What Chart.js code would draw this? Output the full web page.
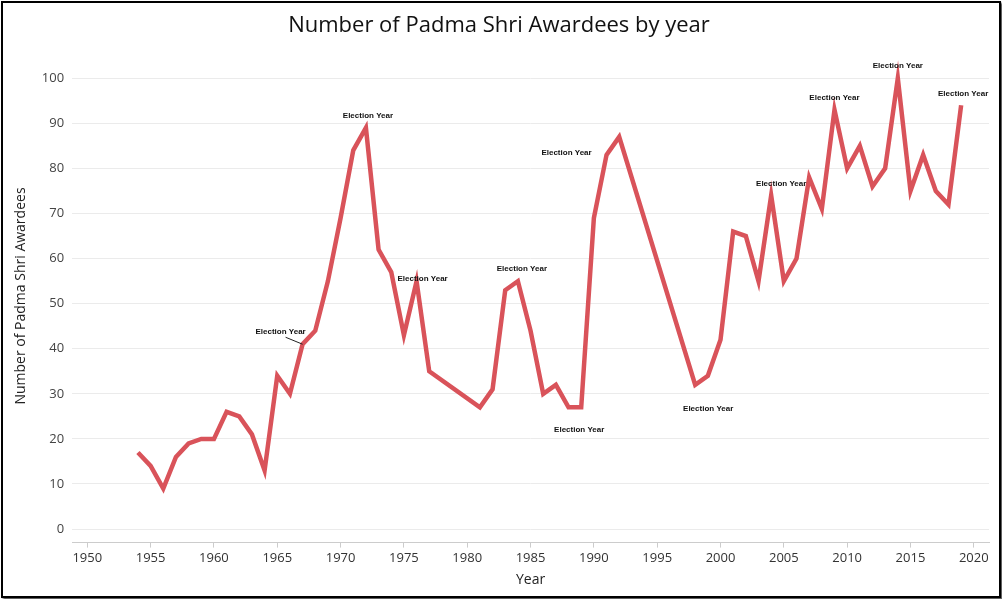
<!DOCTYPE html>
<html><head><meta charset="utf-8">
<script src="https://cdn.jsdelivr.net/npm/chart.js@4"></script>
<style>
html,body{margin:0;padding:0;background:#fff;}
#wrap{position:absolute;left:1px;top:1px;width:996px;height:593px;border:2px solid #000;box-shadow:2px 2px 2px #555;}
</style></head><body>
<div id="wrap"><canvas id="c" width="996" height="593"></canvas></div>
<script>
const years = [1954,1955,1956,1957,1958,1959,1960,1961,1962,1963,1964,1965,1966,1967,1968,1969,1970,1971,1972,1973,1974,1975,1976,1977,1981,1982,1983,1984,1985,1986,1987,1988,1989,1990,1991,1992,1998,1999,2000,2001,2002,2003,2004,2005,2006,2007,2008,2009,2010,2011,2012,2013,2014,2015,2016,2017,2018,2019];
const awardees = [17,14,9,16,19,20,20,26,25,21,13,34,30,41,44,55,69,84,89,62,57,43,55,35,27,31,53,55,44,30,32,27,27,69,83,87,32,34,42,66,65,55,74,55,60,78,71,93,80,85,76,80,100,75,83,75,72,94];
const electionYears = [1967,1972,1976,1984,1989,1991,1998,2004,2009,2014,2019];
const yTicks = [0,10,20,30,40,50,60,70,80,90,100];
const xTicks = [1950,1955,1960,1965,1970,1975,1980,1985,1990,1995,2000,2005,2010,2015,2020];

// label placement per election year: [dx, dy, leader]
const labelPos = {1967:[-22,-12,true],1972:[2,-12],1976:[6,-2],1984:[4,-12],1989:[-2,22],1991:[-40,-2],1998:[13,24],2004:[10,-12],2009:[0,-12],2014:[0,-12],2019:[2,-12]};

const annot = {
  id:'annot',
  afterDatasetsDraw(chart){
    const ctx = chart.ctx, xs = chart.scales.x, ys = chart.scales.y;
    ctx.save();
    ctx.font = 'bold 8px "Liberation Sans", Arial, sans-serif';
    ctx.fillStyle = '#111'; ctx.textAlign='center'; ctx.textBaseline='middle';
    electionYears.forEach(yr=>{
      const i = years.indexOf(yr); if(i<0) return;
      const px = xs.getPixelForValue(yr), py = ys.getPixelForValue(awardees[i]);
      const p = labelPos[yr];
      const lx = px+p[0], ly = py+p[1];
      if(p[2]){ ctx.strokeStyle='#222'; ctx.lineWidth=1; ctx.beginPath(); ctx.moveTo(lx+5,ly+5); ctx.lineTo(px,py); ctx.stroke(); }
      ctx.fillText('Election Year', lx, ly);
    });
    ctx.restore();
  }
};

new Chart(document.getElementById('c'),{
  type:'line',
  data:{datasets:[{data:years.map((y,i)=>({x:y,y:awardees[i]})),borderColor:'#d9535a',borderWidth:4.5,pointRadius:0,tension:0,borderJoinStyle:'miter'}]},
  options:{
    responsive:false,animation:false,
    layout:{padding:{left:6,right:10,top:4,bottom:4}},
    plugins:{legend:{display:false},tooltip:{enabled:false},
      title:{display:true,text:'Number of Padma Shri Awardees by year',font:{size:22,family:'"Open Sans", sans-serif',weight:'500'},color:'#111',padding:{top:6,bottom:10}}},
    scales:{
      x:{type:'linear',min:1948.8,max:2021.2,
        afterBuildTicks:a=>{a.ticks=xTicks.map(v=>({value:v}));},
        ticks:{font:{size:13,family:'"Open Sans", sans-serif'},color:'#333',callback:v=>String(v),maxRotation:0},
        grid:{display:true,drawOnChartArea:false,tickLength:5,color:'#ccc'},
        border:{color:'#ccc'},
        title:{display:true,text:'Year',font:{size:14,family:'"Open Sans", sans-serif'},color:'#222',padding:{top:2}}},
      y:{min:-3,max:106.4,
        afterBuildTicks:a=>{a.ticks=yTicks.map(v=>({value:v}));},
        ticks:{font:{size:13,family:'"Open Sans", sans-serif'},color:'#444',padding:8},
        grid:{color:'#ebebeb',drawTicks:false},
        border:{display:false},
        title:{display:true,text:'Number of Padma Shri Awardees',font:{size:14,family:'"Open Sans", sans-serif'},color:'#222'}}
    }
  },
  plugins:[annot]
});
</script></body></html>
